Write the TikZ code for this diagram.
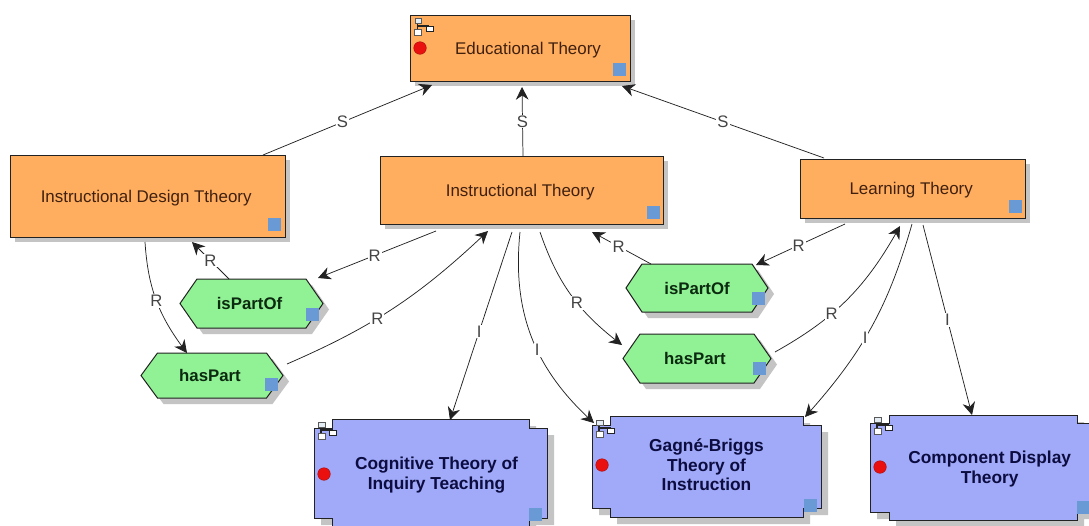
\documentclass[tikz,border=0pt]{standalone}
\usepackage{fontspec}
\setmainfont{Liberation Sans}
\usetikzlibrary{arrows.meta,shadows,bending}
\definecolor{orangefill}{HTML}{FFAD5E}
\definecolor{greenfill}{HTML}{90F294}
\definecolor{bluefill}{HTML}{A0AAF8}
\definecolor{squarefill}{HTML}{6A9AD6}
\definecolor{shadowgray}{HTML}{C4C4C4}
\definecolor{reddot}{HTML}{EA1010}
\definecolor{edge}{HTML}{222222}
\definecolor{orangetext}{HTML}{40200F}
\definecolor{bluetext}{HTML}{0C0C40}
\definecolor{greentext}{HTML}{0C2A10}
\definecolor{labeltext}{HTML}{444444}
\definecolor{iconfill}{HTML}{E4ECF4}
\tikzset{
  orangebox/.style={rectangle,draw=edge,line width=.75pt,fill=orangefill,text=orangetext,
    font=\fontsize{12.7}{15}\selectfont,inner sep=0pt,text height=12pt,text depth=2.5pt,
    drop shadow={shadow xshift=3.75pt,shadow yshift=-3.75pt,fill=shadowgray,opacity=1}},
  hextext/.style={text=greentext,font=\bfseries\fontsize{12.6}{15}\selectfont,inner sep=0pt},
  bluetxt/.style={text=bluetext,font=\bfseries\fontsize{13}{14.7}\selectfont,align=center,inner sep=0pt},
  shapeline/.style={draw=edge,line width=.75pt},
  conn/.style={draw=edge,line width=.55pt,-{Stealth[length=9.5pt,width=9.5pt]}},
  lab/.style={font=\fontsize{12.5}{15}\selectfont,text=labeltext,fill=white,inner sep=.8pt}
}
\newcommand\hexa[8]{%
  \begin{scope}[shift={(#2,#3)}]
    \fill[shadowgray,shift={(6,6)}] (-#4,0) -- (-#4+#8,-#6) -- (#5-#8,-#6) -- (#5,0) -- (#5-#8,#7) -- (-#4+#8,#7) -- cycle;
    \path[shapeline,fill=greenfill] (-#4,0) -- (-#4+#8,-#6) -- (#5-#8,-#6) -- (#5,0) -- (#5-#8,#7) -- (-#4+#8,#7) -- cycle;
  \end{scope}}
\newcommand\notched[6]{%
  \begin{scope}[shift={(#1,#2)}]
    \fill[shadowgray,shift={(7,7)}] (-#3,-#4+#6) -- (-#3+#5,-#4+#6) -- (-#3+#5,-#4) -- (#3-#5,-#4) -- (#3-#5,-#4+#6) -- (#3,-#4+#6) -- (#3,#4-#6) -- (#3-#5,#4-#6) -- (#3-#5,#4) -- (-#3+#5,#4) -- (-#3+#5,#4-#6) -- (-#3,#4-#6) -- cycle;
    \path[shapeline,fill=bluefill] (-#3,-#4+#6) -- (-#3+#5,-#4+#6) -- (-#3+#5,-#4) -- (#3-#5,-#4) -- (#3-#5,-#4+#6) -- (#3,-#4+#6) -- (#3,#4-#6) -- (#3-#5,#4-#6) -- (#3-#5,#4) -- (-#3+#5,#4) -- (-#3+#5,#4-#6) -- (-#3,#4-#6) -- cycle;
  \end{scope}}
\newcommand\bsq[2]{\fill[squarefill] (#1,#2) rectangle ++(12.5,13);}
\newcommand\rdot[2]{\fill[reddot,draw=reddot!70!black,line width=.3pt] (#1,#2) circle[radius=6.3];}
\newcommand\treeicon[2]{%
  \begin{scope}[shift={(#1,#2)}]
    \draw[edge,line width=.9pt] (3,2) -- (3,14) (3,8) -- (14,8) -- (14,10);
    \path[draw=edge!75,line width=.65pt,fill=iconfill] (0.5,0) rectangle (7,5);
    \path[draw=edge!75,line width=.65pt,fill=white] (0,11) rectangle (7,17);
    \path[draw=edge,line width=.65pt,fill=white] (11.5,8) rectangle (18.5,13);
  \end{scope}}
\begin{document}
\begin{tikzpicture}[x=.75pt,y=-.75pt]
\useasboundingbox (0,0) rectangle (1089,525);
\clip (0,0) rectangle (1089,525);
\fill[white] (0,0) rectangle (1089,525);

\node[orangebox,minimum width=165pt,minimum height=49.5pt] (edu) at (520,48) {\hspace*{12pt}Educational Theory};
\node[orangebox,minimum width=206.25pt,minimum height=61.5pt] (idt) at (147.5,196) {\hspace*{-2pt}Instructional Design Ttheory};
\node[orangebox,minimum width=212.25pt,minimum height=51pt] (it) at (521.5,190) {\hspace*{-2pt}Instructional Theory};
\node[orangebox,minimum width=168.75pt,minimum height=44.25pt] (lt) at (912.5,188.5) {\hspace*{-2pt}Learning Theory};

\hexa{ipl}{251.5}{303.5}{71.5}{71.5}{24.5}{24.5}{17}
\node[hextext] (ipl) at (251.5,303.5) {\hspace*{-3pt}isPartOf};
\hexa{hpl}{212}{375.5}{71}{71}{22.5}{22.5}{16.5}
\node[hextext] (hpl) at (212,375.5) {\hspace*{-3pt}hasPart};
\hexa{ipr}{697}{288}{71}{71}{24}{24}{16}
\node[hextext] (ipr) at (697,288) {isPartOf};
\hexa{hpr}{697}{358.5}{74}{74}{24.5}{24.5}{17}
\node[hextext] (hpr) at (697,358.5) {\hspace*{-3pt}hasPart};

\notched{430.5}{473}{116.5}{54}{18}{9}
\node[bluetxt] (cog) at (430.5,475) {\hspace*{9pt}Cognitive Theory of\\\hspace*{9pt}Inquiry Teaching};
\notched{706.5}{466.5}{114.5}{50.5}{18}{9}
\node[bluetxt] (gag) at (706.5,465) {Gagné-Briggs\\Theory of\\Instruction};
\notched{983}{467.5}{113}{52.5}{19}{8}
\node[bluetxt] (comp) at (983,469) {\hspace*{10pt}Component Display\\\hspace*{10pt}Theory};

\bsq{613}{63}\bsq{268}{218}\bsq{647}{206}\bsq{1009}{200}
\bsq{306}{308}\bsq{265}{378}\bsq{752}{292}\bsq{753}{362}
\bsq{529}{508}\bsq{804}{499}\bsq{1077}{501}
\rdot{420}{48}\rdot{324}{474}\rdot{602}{465}\rdot{880}{467}
\treeicon{414.5}{18}\treeicon{318}{422}\treeicon{596}{420}\treeicon{874}{417}

\draw[conn] ([shift={(115.5,-41)}]idt.center) -- node[lab,pos=.47]{S} ([shift={(-88,37)}]edu.center);
\draw[conn] ([shift={(1.5,-34)}]it.center) -- node[lab,pos=.5]{S} ([shift={(2,39)}]edu.center);
\draw[conn] ([shift={(-88.5,-30.5)}]lt.center) -- node[lab,pos=.5]{S} ([shift={(102,38)}]edu.center);
\draw[conn] ([shift={(-22.5,-24.5)}]ipl.center) -- node[lab,pos=.5]{R} ([shift={(44.5,46)}]idt.center);
\draw[conn] ([shift={(-85.5,41)}]it.center) -- node[lab,pos=.52]{R} ([shift={(66.5,-25.5)}]ipl.center);
\draw[conn] ([shift={(-2.5,46)}]idt.center) to[bend right=17] node[lab,pos=.5]{R} ([shift={(-25,-22.5)}]hpl.center);
\draw[conn] ([shift={(75,-11.5)}]hpl.center) to[bend right=10] node[lab,pos=.41]{R} ([shift={(-33.5,41)}]it.center);
\draw[conn] ([shift={(-46,-24)}]ipr.center) -- node[lab,pos=.55]{R} ([shift={(70.5,42)}]it.center);
\draw[conn] ([shift={(-67.5,35.5)}]lt.center) -- node[lab,pos=.52]{R} ([shift={(59,-23)}]ipr.center);
\draw[conn] ([shift={(18.5,42)}]it.center) to[bend right=17] node[lab,pos=.57]{R} ([shift={(-75,-13.5)}]hpr.center);
\draw[conn] ([shift={(78,-6.5)}]hpr.center) to[bend right=16] node[lab,pos=.37]{R} ([shift={(-12.5,37.5)}]lt.center);
\draw[conn] ([shift={(-9.5,42)}]it.center) -- node[lab,pos=.53]{I} ([shift={(19.5,-55)}]cog.center);
\draw[conn] ([shift={(-1.5,42)}]it.center) to[bend right=27] node[lab,pos=.57]{I} ([shift={(-112.5,-42)}]gag.center);
\draw[conn] ([shift={(-0.5,35.5)}]lt.center) to[bend left=13] node[lab,pos=.56]{I} ([shift={(98.5,-48)}]gag.center);
\draw[conn] ([shift={(10.5,36.5)}]lt.center) -- node[lab,pos=.5]{I} ([shift={(-11,-54)}]comp.center);
\end{tikzpicture}
\end{document}
